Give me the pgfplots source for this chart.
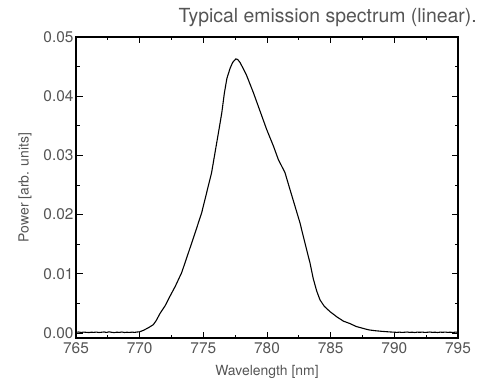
\documentclass[border=0pt]{standalone}
\usepackage{pgfplots}
\pgfplotsset{compat=1.18}
\usepackage{fontspec}
\setmainfont{TeX Gyre Heros}
\definecolor{txt}{HTML}{555555}
\begin{document}
\begin{tikzpicture}[x=1bp,y=1bp]
\begin{axis}[
  at={(0,0)}, anchor=south west,
  scale only axis, width=382bp, height=301bp,
  xmin=765, xmax=795, ymin=-0.00085, ymax=0.05,
  xtick={765,770,...,795}, ytick={0,0.01,...,0.05},
  scaled y ticks=false, scaled x ticks=false,
  minor x tick num=1, minor y tick num=1,
  tick align=inside, tick pos=both,
  major tick length=6.5bp, minor tick length=3.5bp,
  axis line style={line width=1.1pt},
  every tick/.style={black, line width=0.9pt},
  /pgf/number format/assume math mode=true,
  yticklabel style={/pgf/number format/fixed, /pgf/number format/fixed zerofill, /pgf/number format/precision=2},
  xticklabel style={/pgf/number format/1000 sep={}},
  ticklabel style={font=\fontsize{15.5}{18}\selectfont, text=txt},
  xticklabel shift=1bp, yticklabel shift=-1bp,
  xlabel={Wavelength [nm]}, ylabel={Power [arb. units]},
  xlabel style={font=\fontsize{14}{16}\selectfont, text=txt, yshift=-5bp},
  ylabel style={font=\fontsize{14}{16}\selectfont, text=txt, yshift=5bp},
  clip=true,
]
\addplot[black, line width=1.1pt] coordinates {
(765.0,0.00012) (765.2,0.00016) (765.4,0.00009) (765.6,0.00014) (765.8,0.00011)
(766.0,0.00007) (766.2,0.00013) (766.4,0.00010) (766.6,0.00015) (766.8,0.00008)
(767.0,0.00012) (767.2,0.00017) (767.4,0.00009) (767.6,0.00019) (767.8,0.00011)
(768.0,0.00006) (768.2,0.00013) (768.4,0.00010) (768.6,0.00016) (768.8,0.00008)
(769.0,0.00012) (769.2,0.00009) (769.4,0.00014) (769.6,0.00010) (769.8,0.00016)
(770.0,0.00020) (770.3,0.00045) (770.7,0.00090) (771.07,0.0014) (771.3,0.0021)
(771.6,0.0033) (772.0,0.0046) (772.38,0.0062) (772.8,0.0079) (773.3,0.0102)
(773.82,0.0135) (774.35,0.0169) (774.87,0.0203) (775.26,0.0237) (775.65,0.0271)
(775.92,0.0305) (776.2,0.0340) (776.45,0.0372) (776.65,0.0405) (776.85,0.0430)
(777.1,0.0447) (777.3,0.0457) (777.55,0.0463) (777.7,0.0462) (777.88,0.0457)
(778.1,0.0448) (778.4,0.0435) (778.93,0.0406) (779.45,0.0375) (779.97,0.0344)
(780.5,0.0316) (780.89,0.0293) (781.41,0.0271) (781.81,0.0242) (782.2,0.0214)
(782.59,0.0186) (782.98,0.0152) (783.38,0.0118) (783.63,0.0092) (783.9,0.0071)
(784.16,0.0056) (784.5,0.0045) (784.95,0.0036) (785.5,0.0027)
(786.0,0.0020) (786.5,0.0016) (787.0,0.0011) (787.5,0.00080) (788.0,0.00052)
(788.5,0.00038) (789.0,0.00028) (789.6,0.00018) (790.0,0.00013) (790.2,0.00010)
(790.4,0.00014) (790.6,0.00009) (790.8,0.00012) (791.0,0.00016) (791.2,0.00010)
(791.4,0.00013) (791.6,0.00008) (791.8,0.00014) (792.0,0.00011) (792.2,0.00015)
(792.4,0.00009) (792.6,0.00012) (792.8,0.00016) (793.0,0.00010) (793.2,0.00013)
(793.4,0.00008) (793.6,0.00014) (793.8,0.00011) (794.0,0.00015) (794.2,0.00010)
(794.4,0.00013) (794.6,0.00009) (794.8,0.00014) (795.0,0.00012)
};
\end{axis}
\node[anchor=base east, text=txt, font=\fontsize{19.5}{23}\selectfont, inner sep=0pt] at (401bp,315bp) {Typical emission spectrum (linear).};
\path[use as bounding box] (-76bp,-47bp) rectangle (411bp,338bp);
\end{tikzpicture}
\end{document}
